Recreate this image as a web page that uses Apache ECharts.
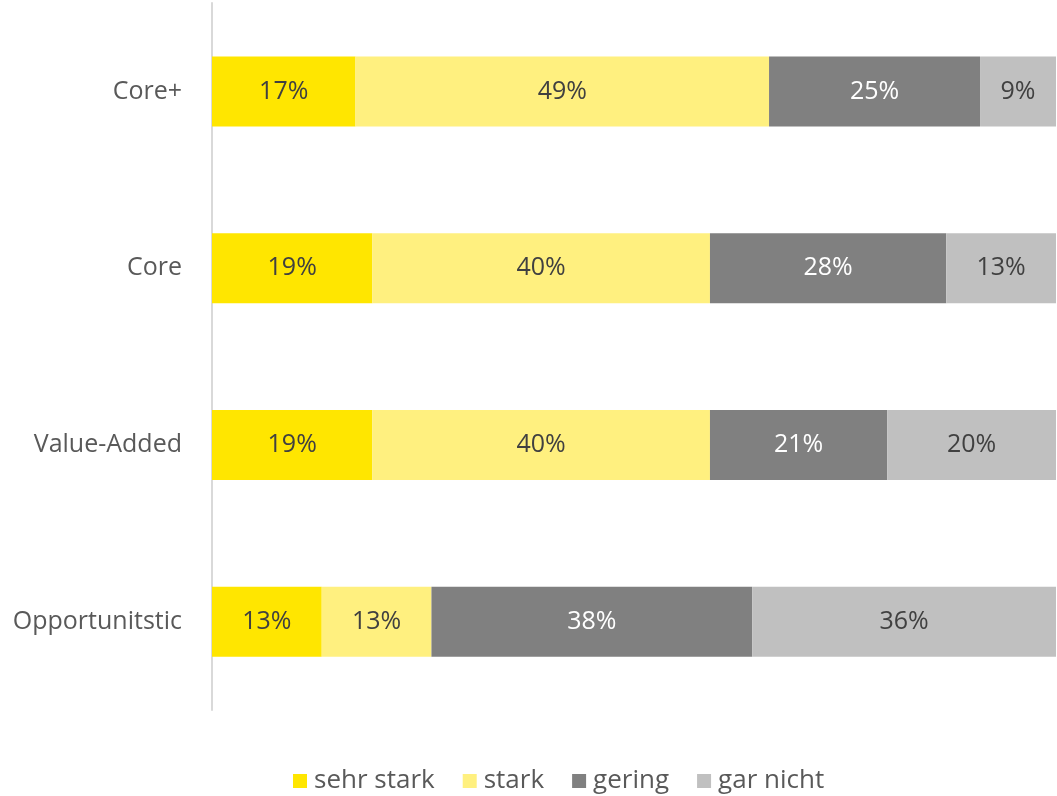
<!DOCTYPE html>
<html>
<head>
<meta charset="utf-8">
<script src="https://cdn.jsdelivr.net/npm/echarts@6/dist/echarts.min.js"></script>
<style>
  html, body { margin: 0; padding: 0; background: #fff; }
  #main { width: 1057px; height: 796px; }
</style>
</head>
<body>
<div id="main"></div>
<script>
  // Kategorien von oben nach unten
  var categories = ['Core+', 'Core', 'Value-Added', 'Opportunitstic'];
  var seriesNames = ['sehr stark', 'stark', 'gering', 'gar nicht'];
  var sehrStark = [17, 19, 19, 13];
  var stark = [49, 40, 40, 13];
  var gering = [25, 28, 21, 38];
  var garNicht = [9, 13, 20, 36];

  var colors = ['#FFE600', '#FFF07F', '#808080', '#C0C0C0'];
  var labelColors = ['#404040', '#404040', '#ffffff', '#404040'];
  var values = [sehrStark, stark, gering, garNicht];
  var fontFamily = '"Open Sans", "Noto Sans", sans-serif';

  var series = [];
  for (var i = 0; i < seriesNames.length; i++) {
    series.push({
      name: seriesNames[i],
      type: 'bar',
      stack: 'total',
      barWidth: 70,
      itemStyle: { color: colors[i] },
      label: {
        show: true,
        position: 'inside',
        formatter: '{c}%',
        color: labelColors[i],
        fontSize: 25,
        fontFamily: fontFamily,
        padding: [4, 0, 0, 0]
      },
      emphasis: { disabled: true },
      data: values[i]
    });
  }

  var option = {
    animation: false,
    grid: { left: 212, right: 1, top: 3, bottom: 86 },
    legend: {
      top: 763,
      left: 288,
      itemWidth: 14,
      itemHeight: 14,
      itemGap: 28,
      icon: 'rect',
      textStyle: { fontSize: 26, color: '#595959', fontFamily: fontFamily, padding: [0, 0, 0, 2] },
      data: seriesNames
    },
    xAxis: {
      type: 'value',
      min: 0,
      max: 100,
      show: false
    },
    yAxis: {
      type: 'category',
      inverse: true,
      data: categories,
      axisLine: { show: true, lineStyle: { color: '#D9D9D9', width: 2 } },
      axisTick: { show: false },
      axisLabel: { fontSize: 25, color: '#595959', margin: 30, fontFamily: fontFamily, padding: [4, 0, 0, 0] }
    },
    series: series
  };

  echarts.init(document.getElementById('main')).setOption(option);
</script>
</body>
</html>
